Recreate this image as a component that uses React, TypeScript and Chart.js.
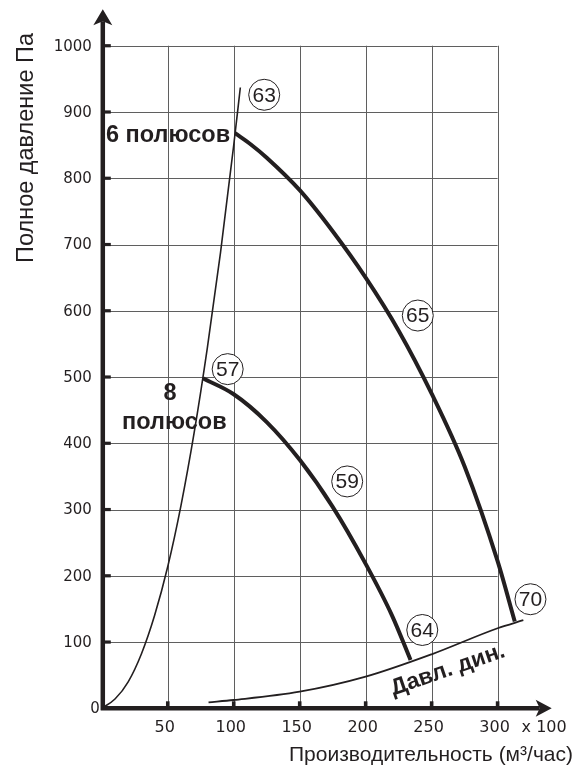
import React, { useEffect, useRef } from 'react';
import { Chart, registerables } from 'chart.js';

Chart.register(...registerables);

// ---- axes / ticks ----
const xGridValues = [50, 100, 150, 200, 250, 300];
const yGridValues = [100, 200, 300, 400, 500, 600, 700, 800, 900, 1000];
const xTickLabels = ['50', '100', '150', '200', '250', '300'];
const yTickLabels = ['100', '200', '300', '400', '500', '600', '700', '800', '900', '1000'];
const originLabel = '0';
const xUnitLabel = 'x 100';
const xTitle = 'Производительность (м³/час)';
const yTitle = 'Полное давление Па';
const xAxisMax = 341;
const yAxisMax = 1055;

// ---- curves ----
const systemX = [0, 10, 20, 30, 40, 50, 60, 70, 80, 90, 100, 105];
const systemY = [0, 14, 40, 82, 140, 214, 306, 416, 544, 688, 850, 937];

const sixPoleX = [101, 113, 125, 150, 175, 200, 225, 250, 275, 300, 313];
const sixPoleY = [868, 851, 831, 782, 720, 650, 570, 475, 365, 222, 131];

const eightPoleX = [76.6, 100, 125, 150, 175, 200, 220, 234];
const eightPoleY = [498, 474, 432, 375, 304, 218, 140, 73];

const dynX = [80.9, 100, 150, 200, 250, 300, 319.5];
const dynY = [9, 12.5, 25, 47.7, 81.5, 120.8, 133];

// ---- annotations ----
const markerTexts = ['63', '65', '57', '59', '64', '70'];
const markerX = [123.1, 239.5, 95.4, 186.0, 242.9, 324.9];
const markerY = [926, 592.8, 511.9, 342.4, 118.2, 164.6];

const noteTexts = ['6 полюсов', '8', 'полюсов'];
const noteX = [3.2, 51.7, 55];
const noteY = [864.4, 474.6, 431.2];
const noteAlign = ['left', 'center', 'center'];

const dynLabel = 'Давл. дин.';
const dynLabelX = 262.3;
const dynLabelY = 57.9;

const INK = '#231f20';

const toPts = (xs: number[], ys: number[]) => xs.map((v, i) => ({ x: v, y: ys[i] }));

const decor = {
  id: 'decor',
  beforeDatasetsDraw(chart: any) {
    const { ctx } = chart;
    const xs = chart.scales.x;
    const ys = chart.scales.y;
    const x0 = xs.getPixelForValue(0);
    const y0 = ys.getPixelForValue(0);
    const xEnd = xs.getPixelForValue(xGridValues[xGridValues.length - 1]);
    const yEnd = ys.getPixelForValue(yGridValues[yGridValues.length - 1]);
    const xTip = xs.getPixelForValue(xs.max);
    const yTip = ys.getPixelForValue(ys.max);
    ctx.save();
    // grid
    ctx.strokeStyle = '#5f5f5f';
    ctx.lineWidth = 1;
    ctx.beginPath();
    xGridValues.forEach((v) => {
      const px = Math.round(xs.getPixelForValue(v)) + 0.5;
      ctx.moveTo(px, y0);
      ctx.lineTo(px, yEnd);
    });
    yGridValues.forEach((v) => {
      const py = Math.round(ys.getPixelForValue(v)) + 0.5;
      ctx.moveTo(x0, py);
      ctx.lineTo(xEnd, py);
    });
    ctx.stroke();
    // axes
    const ax = x0 + 1;
    ctx.strokeStyle = INK;
    ctx.fillStyle = INK;
    ctx.lineWidth = 4.5;
    ctx.beginPath();
    ctx.moveTo(ax, y0 + 2);
    ctx.lineTo(ax, yTip + 12);
    ctx.moveTo(x0 - 1, y0);
    ctx.lineTo(xTip - 12, y0);
    ctx.stroke();
    // arrowheads
    ctx.beginPath();
    ctx.moveTo(ax, yTip);
    ctx.lineTo(ax + 9.5, yTip + 16);
    ctx.lineTo(ax, yTip + 12);
    ctx.lineTo(ax - 9.5, yTip + 16);
    ctx.closePath();
    ctx.fill();
    ctx.beginPath();
    ctx.moveTo(xTip, y0);
    ctx.lineTo(xTip - 16, y0 - 8.5);
    ctx.lineTo(xTip - 12, y0);
    ctx.lineTo(xTip - 16, y0 + 8.5);
    ctx.closePath();
    ctx.fill();
    // tick marks
    xGridValues.forEach((v) => {
      const px = xs.getPixelForValue(v);
      ctx.fillRect(px - 1.8, y0 - 7, 3.6, 7);
    });
    yGridValues.forEach((v) => {
      const py = ys.getPixelForValue(v);
      ctx.fillRect(ax, py - 1.6, 8, 3.2);
    });
    ctx.restore();
  },
  afterDatasetsDraw(chart: any) {
    const { ctx } = chart;
    const xs = chart.scales.x;
    const ys = chart.scales.y;
    const x0 = xs.getPixelForValue(0);
    const y0 = ys.getPixelForValue(0);
    ctx.save();
    ctx.fillStyle = INK;
    // y tick labels
    ctx.font = "15px 'DejaVu Sans'";
    ctx.textAlign = 'right';
    ctx.textBaseline = 'middle';
    yGridValues.forEach((v, i) => {
      ctx.fillText(yTickLabels[i], x0 - 10, ys.getPixelForValue(v) + 1);
    });
    ctx.fillText(originLabel, x0 - 2, y0 + 1);
    // x tick labels
    ctx.font = "16px 'DejaVu Sans'";
    ctx.textAlign = 'center';
    xGridValues.forEach((v, i) => {
      ctx.fillText(xTickLabels[i], xs.getPixelForValue(v) - 3, y0 + 20);
    });
    ctx.textAlign = 'left';
    ctx.fillText(xUnitLabel, xs.getPixelForValue(xGridValues[xGridValues.length - 1]) + 24, y0 + 20);
    // titles
    ctx.font = "21px 'Liberation Sans'";
    ctx.textAlign = 'right';
    ctx.textBaseline = 'alphabetic';
    ctx.fillText(xTitle, 573, 761);
    ctx.save();
    ctx.translate(33, 33);
    ctx.rotate(-Math.PI / 2);
    ctx.textAlign = 'right';
    ctx.font = "23.5px 'Liberation Sans'";
    ctx.fillText(yTitle, 0, 0);
    ctx.restore();
    // circled markers
    markerTexts.forEach((t, i) => {
      const px = xs.getPixelForValue(markerX[i]);
      const py = ys.getPixelForValue(markerY[i]);
      ctx.beginPath();
      ctx.arc(px, py, 15.5, 0, Math.PI * 2);
      ctx.fillStyle = '#ffffff';
      ctx.fill();
      ctx.lineWidth = 1;
      ctx.strokeStyle = INK;
      ctx.stroke();
      ctx.fillStyle = INK;
      ctx.font = "21px 'Liberation Sans'";
      ctx.textAlign = 'center';
      ctx.textBaseline = 'middle';
      ctx.fillText(t, px, py + 1);
    });
    // notes
    ctx.font = "bold 23.5px 'Liberation Sans'";
    ctx.textBaseline = 'middle';
    noteTexts.forEach((t, i) => {
      ctx.textAlign = noteAlign[i] as CanvasTextAlign;
      ctx.fillText(t, xs.getPixelForValue(noteX[i]), ys.getPixelForValue(noteY[i]));
    });
    // dynamic pressure label
    ctx.save();
    ctx.translate(xs.getPixelForValue(dynLabelX), ys.getPixelForValue(dynLabelY));
    ctx.rotate((-19 * Math.PI) / 180);
    ctx.font = "bold 23px 'Liberation Sans'";
    ctx.textAlign = 'center';
    ctx.textBaseline = 'middle';
    ctx.fillText(dynLabel, 0, 0);
    ctx.restore();
    ctx.restore();
  },
};

export default function App() {
  const ref = useRef<HTMLCanvasElement | null>(null);
  useEffect(() => {
    if (!ref.current) return;
    const line = (xs: number[], ys: number[], w: number) => ({
      data: toPts(xs, ys),
      showLine: true,
      borderColor: INK,
      borderWidth: w,
      pointRadius: 0,
      fill: false,
      cubicInterpolationMode: 'monotone' as const,
    });
    const chart = new Chart(ref.current, {
      type: 'scatter',
      data: {
        datasets: [
          line(dynX, dynY, 1.8),
          line(systemX, systemY, 1.6),
          line(sixPoleX, sixPoleY, 4),
          line(eightPoleX, eightPoleY, 4),
        ],
      },
      options: {
        responsive: false,
        animation: false,
        layout: { padding: { left: 101.8, right: 30.3, top: 9.3, bottom: 60.7 } },
        scales: {
          x: { type: 'linear', min: 0, max: xAxisMax, display: false },
          y: { type: 'linear', min: 0, max: yAxisMax, display: false },
        },
        plugins: { legend: { display: false }, tooltip: { enabled: false } },
      },
      plugins: [decor],
    });
    return () => chart.destroy();
  }, []);
  return (
    <div style={{ position: 'absolute', left: 0, top: 0, width: 582, height: 769, background: '#fff' }}>
      <canvas ref={ref} width={582} height={769} />
    </div>
  );
}
